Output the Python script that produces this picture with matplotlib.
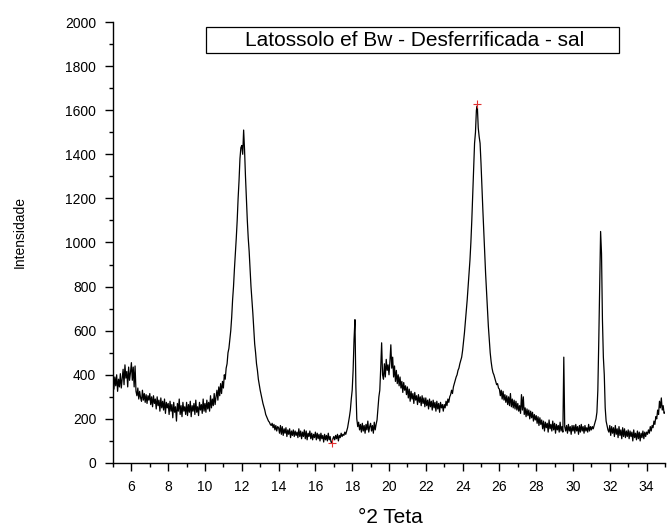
import numpy as np
import matplotlib
matplotlib.use("Agg")
import matplotlib.pyplot as plt
from matplotlib.patches import Rectangle

# ---- data, 2-theta from 5.00 to 35.00 in steps of 0.05 ----
theta_start = 5.0
theta_step = 0.05
intensity = [
    370, 335, 390, 350, 400, 325, 380, 345, 405, 340, 385, 425, 355, 445, 385, 415, 345, 435, 375, 410,            # 5
    455, 375, 435, 345, 440, 325, 305, 340, 290, 325, 295, 280, 330, 285, 315, 275, 310, 270, 305, 285,            # 6
    315, 265, 300, 255, 305, 270, 290, 245, 300, 260, 285, 235, 295, 250, 280, 240, 290, 225, 275, 250,            # 7
    270, 220, 280, 235, 265, 205, 275, 230, 255, 190, 270, 235, 290, 220, 260, 210, 275, 235, 255, 220,            # 8
    275, 215, 265, 230, 280, 210, 260, 235, 270, 220, 285, 230, 255, 215, 275, 240, 265, 225, 290, 235,            # 9
    270, 230, 285, 245, 275, 235, 305, 250, 290, 260, 315, 265, 300, 330, 285, 345, 305, 360, 315, 370,            # 10
    340, 400, 380, 430, 450, 500, 520, 560, 600, 660, 740, 800, 880, 950, 1020, 1100, 1200, 1280, 1380, 1430,      # 11
    1440, 1400, 1510, 1420, 1300, 1200, 1100, 1020, 960, 880, 800, 740, 680, 610, 540, 500, 450, 420, 380, 355,    # 12
    330, 310, 290, 270, 255, 240, 220, 210, 200, 190, 185, 175, 170, 180, 160, 175, 150, 170, 145, 165,            # 13
    160, 135, 170, 130, 165, 125, 155, 135, 160, 120, 150, 130, 155, 115, 145, 125, 150, 120, 145, 125,            # 14
    140, 115, 155, 120, 145, 110, 140, 120, 150, 110, 145, 105, 135, 120, 145, 110, 135, 105, 130, 115,            # 15
    140, 105, 135, 110, 130, 100, 135, 110, 125, 95, 130, 105, 125, 100, 135, 105, 120, 95, 90, 110,               # 16
    120, 105, 125, 110, 130, 100, 125, 115, 135, 120, 130, 125, 140, 130, 145, 160, 185, 210, 240, 290,            # 17
    330, 420, 560, 650, 345, 200, 165, 185, 150, 175, 140, 180, 145, 170, 135, 175, 150, 190, 140, 165,            # 18
    180, 145, 170, 135, 185, 150, 175, 195, 250, 300, 330, 430, 545, 400, 380, 450, 390, 470, 420, 445,            # 19
    400, 460, 536, 430, 480, 390, 440, 370, 420, 360, 400, 350, 390, 340, 370, 320, 365, 330, 350, 310,            # 20
    345, 295, 335, 280, 325, 290, 315, 270, 320, 285, 305, 265, 310, 275, 300, 260, 305, 270, 295, 255,            # 21
    295, 260, 285, 245, 290, 255, 280, 240, 285, 250, 275, 235, 280, 245, 270, 230, 275, 250, 265, 235,            # 22
    265, 250, 280, 260, 290, 275, 300, 310, 330, 315, 345, 360, 375, 390, 400, 420, 430, 450, 465, 480,            # 23
    510, 550, 590, 640, 690, 740, 800, 860, 920, 1000, 1100, 1220, 1350, 1450, 1500, 1600, 1620, 1520, 1480, 1450, # 24
    1360, 1250, 1150, 1050, 950, 860, 780, 700, 620, 560, 500, 460, 430, 410, 400, 385, 370, 355, 360, 340,        # 25
    335, 305, 330, 290, 325, 285, 310, 275, 305, 265, 300, 260, 315, 255, 290, 250, 285, 245, 280, 240,            # 26
    270, 235, 260, 225, 310, 240, 300, 220, 250, 210, 245, 215, 240, 200, 235, 205, 230, 190, 220, 195,            # 27
    215, 180, 210, 170, 205, 175, 195, 155, 190, 145, 185, 160, 180, 140, 195, 155, 175, 145, 190, 150,            # 28
    180, 135, 175, 150, 170, 140, 185, 145, 165, 140, 480, 165, 145, 170, 135, 175, 145, 165, 130, 170,            # 29
    145, 170, 135, 175, 145, 165, 130, 170, 140, 175, 145, 165, 135, 170, 145, 160, 140, 175, 145, 165,            # 30
    150, 165, 155, 170, 185, 200, 230, 330, 550, 800, 1050, 950, 650, 480, 400, 250, 190, 170, 150, 140,           # 31
    170, 125, 165, 135, 160, 120, 170, 130, 155, 115, 165, 125, 150, 110, 160, 120, 155, 115, 145, 120,            # 32
    150, 110, 145, 120, 140, 100, 150, 115, 135, 105, 145, 110, 140, 100, 135, 115, 145, 110, 140, 120,            # 33
    140, 130, 150, 135, 165, 145, 170, 160, 190, 175, 210, 200, 240, 220, 280, 250, 295, 240, 260, 225,            # 34
    230,                                                                                                            # 35
]
theta = theta_start + theta_step * np.arange(len(intensity))

marker_x = [24.8, 16.9]
marker_y = [1630, 92]

legend_text = "Latossolo ef Bw - Desferrificada - sal"
x_label = "°2 Teta"
y_label = "Intensidade"
x_ticks = list(range(6, 35, 2))
y_ticks = list(range(0, 2001, 200))

plt.rcParams['font.family'] = ['Liberation Sans', 'DejaVu Sans']

fig = plt.figure(figsize=(6.67, 5.29), dpi=100)
ax = fig.add_axes([0.1694, 0.1248, 0.8276, 0.8336])

ax.plot(theta, intensity, color='black', lw=0.9)
ax.plot(marker_x, marker_y, linestyle='none', marker='+', color='#e03030',
        markersize=6, mew=0.8)

ax.set_xlim(5, 35)
ax.set_ylim(0, 2000)
ax.set_xticks(x_ticks)
ax.set_xticks(range(5, 36, 1), minor=True)
ax.set_yticks(y_ticks)
ax.set_yticks(range(0, 2001, 100), minor=True)

for s in ['top', 'right']:
    ax.spines[s].set_visible(False)
for s in ['left', 'bottom']:
    ax.spines[s].set_linewidth(1.0)

ax.tick_params(axis='both', which='major', direction='out', length=6, width=1.0,
               labelsize=10, pad=6)
ax.tick_params(axis='both', which='minor', direction='out', length=3, width=1.0)

fig.text(0.585, 0.0208, x_label, ha='center', va='center', fontsize=15)
fig.text(0.030, 0.561, y_label, ha='center', va='center', rotation=90, fontsize=10)

# legend-like box
fig.patches.append(Rectangle((206/667, 1-53/529), (619-206)/667, 26/529,
                             transform=fig.transFigure, fill=False,
                             edgecolor='black', lw=0.9))
fig.text(415/667, 1-40/529, legend_text, ha='center', va='center', fontsize=15)

fig.savefig("out.png", dpi=100)
